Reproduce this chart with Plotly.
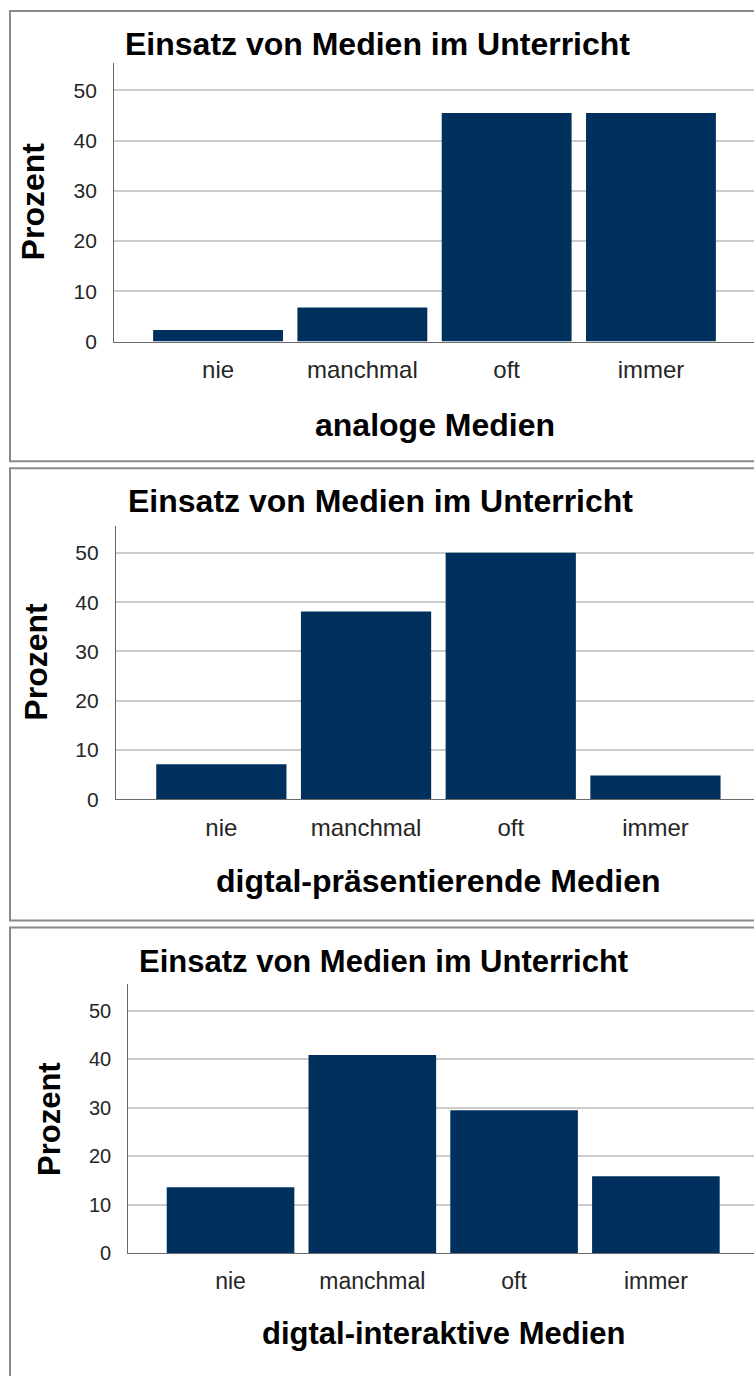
import plotly.graph_objects as go

W, H = 754, 1376

# Haeufigkeiten (Prozent) je Kategorie
kategorien = ["nie", "manchmal", "oft", "immer"]
analog = [2.3, 6.8, 45.5, 45.5]
praesentierend = [7.1, 38.1, 50.0, 4.8]
interaktiv = [13.6, 40.9, 29.5, 15.9]

haupttitel = "Einsatz von Medien im Unterricht"
y_titel = "Prozent"
x_titel = ["analoge Medien", "digtal-präsentierende Medien", "digtal-interaktive Medien"]
y_ticks = [0, 10, 20, 30, 40, 50]

FONT = "Liberation Sans, Arial, sans-serif"
BAR = "#00305e"
GRID = "#cccccc"
AXIS = "#6a6a6a"

# Pixel layout of each panel: plot area (left, top, bottom), x range, text positions
panels = [
    dict(data=analog, left=114.3, top=63.3, bottom=344.3, xr=[-0.719, 3.714],
         box=(10, 11, 465), title=(123, 44, 32), ytit=(33, 203, 32),
         xtit=(435, 428, 32), xtick=24, ytick=21),
    dict(data=praesentierend, left=116, top=530, bottom=805.7, xr=[-0.728, 3.681],
         box=(10, 472, 928), title=(126, 505, 32), ytit=(36, 667, 32),
         xtit=(438, 888, 32), xtick=24, ytick=21),
    dict(data=interaktiv, left=128.3, top=992.3, bottom=1263.3, xr=[-0.721, 3.692],
         box=(10, 935, 1400), title=(137, 969, 31), ytit=(50, 1128, 31),
         xtit=(443, 1344, 31), xtick=23, ytick=20),
]


def px_x(v):
    return v / W


def px_y(v):
    return 1 - v / H


fig = go.Figure()
annotations = []
shapes = []

for i, p in enumerate(panels, start=1):
    sfx = "" if i == 1 else str(i)
    fig.add_trace(go.Bar(
        x=kategorien, y=p["data"], xaxis="x" + sfx, yaxis="y" + sfx,
        marker=dict(color=BAR, line=dict(width=0)), width=0.9,
        showlegend=False, hoverinfo="x+y",
    ))
    fig.update_layout(**{
        "xaxis" + sfx: dict(
            domain=[px_x(p["left"]), 1], range=p["xr"], anchor="y" + sfx,
            type="category", showgrid=False, zeroline=False,
            showline=True, linecolor=AXIS, linewidth=1.3,
            ticks="", ticklabelstandoff=7,
            tickfont=dict(family=FONT, size=p["xtick"], color="#262626"),
            fixedrange=True,
        ),
        "yaxis" + sfx: dict(
            domain=[px_y(p["bottom"]), px_y(p["top"])], range=[0, 55.5],
            anchor="x" + sfx, tickvals=y_ticks, showgrid=True,
            gridcolor=GRID, gridwidth=2, zeroline=False,
            showline=True, linecolor=AXIS, linewidth=1.3,
            ticks="", ticklabelstandoff=12,
            tickfont=dict(family=FONT, size=p["ytick"], color="#262626"),
            fixedrange=True,
        ),
    })

    bx, by0, by1 = p["box"]
    shapes.append(dict(
        type="rect", xref="paper", yref="paper",
        x0=px_x(bx), x1=px_x(W + 20), y0=px_y(by1), y1=px_y(by0),
        line=dict(color="#8a8a8a", width=2), fillcolor="rgba(0,0,0,0)",
        layer="below",
    ))

    tx, ty, ts = p["title"]
    annotations.append(dict(
        text=haupttitel, xref="paper", yref="paper", x=px_x(tx), y=px_y(ty),
        xanchor="left", yanchor="middle", showarrow=False,
        font=dict(family=FONT, size=ts, color="#000000", weight="bold"),
    ))
    yx, yy, ys = p["ytit"]
    annotations.append(dict(
        text=y_titel, xref="paper", yref="paper", x=px_x(yx), y=px_y(yy),
        xanchor="center", yanchor="middle", textangle=-90, showarrow=False,
        font=dict(family=FONT, size=ys, color="#000000", weight="bold"),
    ))
    xx, xy, xs = p["xtit"]
    annotations.append(dict(
        text=x_titel[i - 1], xref="paper", yref="paper", x=px_x(xx), y=px_y(xy),
        xanchor="center", yanchor="middle", showarrow=False,
        font=dict(family=FONT, size=xs, color="#000000", weight="bold"),
    ))

fig.update_layout(
    width=W, height=H, autosize=False,
    margin=dict(l=0, r=0, t=0, b=0),
    paper_bgcolor="white", plot_bgcolor="white",
    annotations=annotations, shapes=shapes,
    bargap=0.1,
)

fig.write_html("out.html", config=dict(displayModeBar=False))
